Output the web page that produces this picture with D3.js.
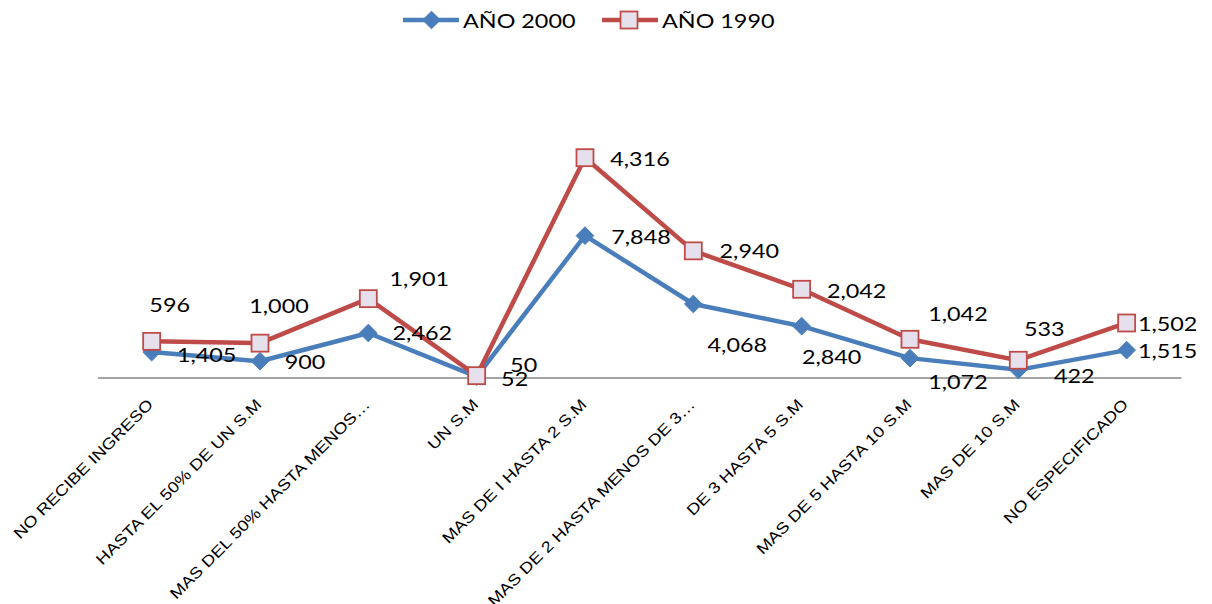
<!DOCTYPE html>
<html>
<head>
<meta charset="utf-8">
<script src="https://d3js.org/d3.v7.min.js"></script>
<style>
  body { margin: 0; background: #fff; }
  svg { display: block; }
</style>
</head>
<body>
<div class="wrapper"></div>
<script>
// categories (income ranges) and the two series
var categories = ["NO RECIBE INGRESO", "HASTA EL 50% DE UN S.M", "MAS DEL 50% HASTA MENOS…",
  "UN S.M", "MAS DE I HASTA 2 S.M", "MAS DE 2 HASTA MENOS DE 3…", "DE 3 HASTA 5 S.M",
  "MAS DE 5 HASTA 10 S.M", "MAS DE 10 S.M", "NO ESPECIFICADO"];
var anio2000 = [1405, 900, 2462, 52, 7848, 4068, 2840, 1072, 422, 1515];
var anio1990 = [596, 1000, 1901, 50, 4316, 2940, 2042, 1042, 533, 1502];
var seriesNames = ["AÑO 2000", "AÑO 1990"];

// label placement (offset of the label centre from its point), as in the original
var labelDx2000 = [55, 45, 54, 38, 56, 44, 30, 48, 56, 41];
var labelDy2000 = [3, 1, 0, 3, 1, 41, 31, 24, 6, 1];
var labelDx1990 = [18, 19, 51, 47, 55, 56, 55, 48, 26, 41];
var labelDy1990 = [-36, -37, -19, -11, 1, 0, 2, -25, -31, 1];

var width = 1212, height = 604;
var blue = "#4A7EBB", red = "#BE4B48", squareFill = "#E6E0EC";
var stretch = 1.23; // text in the original is rendered wider than normal

var svg = d3.select(".wrapper").append("svg")
  .attr("width", width)
  .attr("height", height);

// build rows for the stacked line chart
var table = categories.map(function(c, i) {
  return { cat: c, a2000: anio2000[i], a1990: anio1990[i] };
});
var stacked = d3.stack().keys(["a2000", "a1990"])(table);

var x = d3.scalePoint()
  .domain(categories)
  .range([97.5, 1180.8])
  .padding(0.5);

var y = d3.scaleLinear()
  .domain([0, 14000])
  .range([377.5, 124.5]);

// x axis (no ticks, grey line)
var axis = svg.append("g")
  .attr("transform", "translate(0," + y(0) + ")")
  .call(d3.axisBottom(x).tickSize(0).tickSizeOuter(0));
axis.select(".domain").attr("stroke", "#868686").attr("stroke-width", 1.5);
axis.selectAll(".tick text")
  .attr("text-anchor", "end")
  .attr("font-family", "'Liberation Sans', Arial, sans-serif")
  .attr("font-size", 15.5)
  .attr("fill", "#000")
  .attr("x", null).attr("y", null).attr("dy", null)
  .attr("transform", "translate(2,28) rotate(-45) scale(1.18,1)");

var line = d3.line()
  .x(function(d) { return x(d.data.cat); })
  .y(function(d) { return y(d[1]); });

var colors = [blue, red];

// lines
stacked.forEach(function(s, k) {
  svg.append("path")
    .datum(s)
    .attr("d", line)
    .attr("fill", "none")
    .attr("stroke", colors[k])
    .attr("stroke-width", 4.5)
    .attr("stroke-linejoin", "round");
});

// markers
function diamond(g, cx, cy) {
  g.append("path")
    .attr("d", d3.symbol().type(d3.symbolDiamond2).size(200)())
    .attr("transform", "translate(" + cx + "," + cy + ")")
    .attr("fill", blue)
    .attr("stroke", blue)
    .attr("stroke-width", 1);
}
function square(g, cx, cy) {
  g.append("rect")
    .attr("x", cx - 8.5).attr("y", cy - 8.5)
    .attr("width", 17).attr("height", 17)
    .attr("fill", squareFill)
    .attr("stroke", red)
    .attr("stroke-width", 1.8);
}

var markers = svg.append("g");
stacked[0].forEach(function(d) { diamond(markers, x(d.data.cat), y(d[1])); });
var markers2 = svg.append("g");
stacked[1].forEach(function(d) { square(markers2, x(d.data.cat), y(d[1])); });

// data labels
var fmt = d3.format(",");
var labelFont = "Lato, 'Open Sans', sans-serif";
function labels(s, values, dxs, dys) {
  svg.append("g").selectAll("text")
    .data(s)
    .enter()
    .append("text")
    .attr("transform", function(d, i) {
      return "translate(" + (x(d.data.cat) + dxs[i]) + "," + (y(d[1]) + dys[i]) + ") scale(" + stretch + ",1)";
    })
    .attr("text-anchor", "middle")
    .attr("dy", "0.36em")
    .attr("font-family", labelFont)
    .attr("font-size", 19)
    .attr("fill", "#000")
    .text(function(d, i) { return fmt(values[i]); });
}
labels(stacked[0], anio2000, labelDx2000, labelDy2000);
labels(stacked[1], anio1990, labelDx1990, labelDy1990);

// legend
var legend = svg.append("g");
var legendX = [403, 602];
seriesNames.forEach(function(name, k) {
  var lx = legendX[k];
  legend.append("line")
    .attr("x1", lx).attr("x2", lx + 56)
    .attr("y1", 20).attr("y2", 20)
    .attr("stroke", colors[k])
    .attr("stroke-width", 4.5);
  if (k === 0) diamond(legend, lx + 28.5, 20);
  else square(legend, lx + 27, 20);
  legend.append("text")
    .attr("transform", "translate(" + (lx + 60) + ",27.5) scale(" + stretch + ",1)")
    .attr("font-family", labelFont)
    .attr("font-size", 19)
    .attr("fill", "#000")
    .text(name);
});
</script>
</body>
</html>
